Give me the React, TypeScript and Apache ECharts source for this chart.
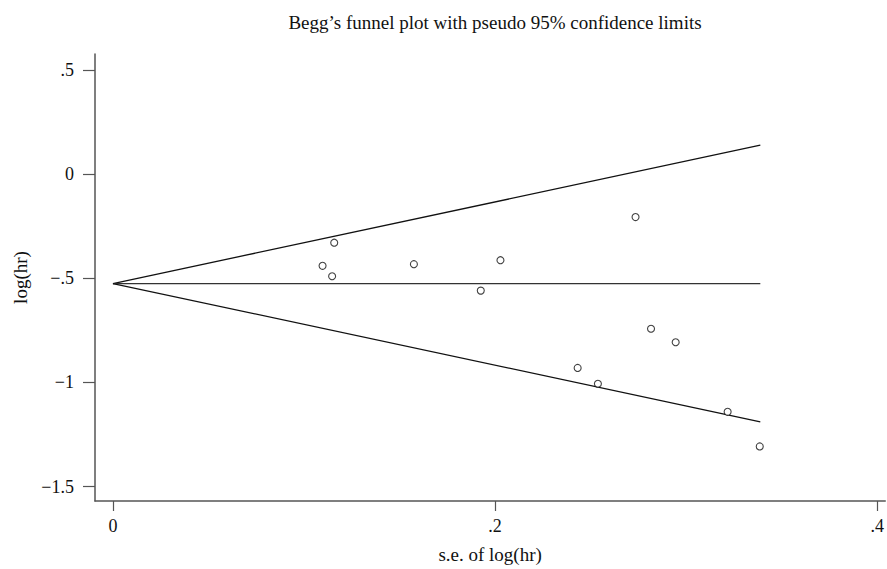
import React, { useEffect, useRef } from "react";
import * as echarts from "echarts";

const studySE = [0.1097, 0.1158, 0.1147, 0.1575, 0.1925, 0.2028, 0.2735, 0.2432, 0.2538, 0.2816, 0.2945, 0.3217, 0.3385];
const studyLogHR = [-0.44, -0.329, -0.49, -0.432, -0.559, -0.413, -0.206, -0.93, -1.006, -0.742, -0.807, -1.141, -1.307];

const funnelSE = [0, 0.3388];
const centreLine = [-0.525, -0.525];
const upperLimit = [-0.525, 0.139];
const lowerLimit = [-0.525, -1.189];

const xTicks = [0, 0.2, 0.4];
const yTicks = [-1.5, -1, -0.5, 0, 0.5];

const FONT = "'Liberation Serif', 'DejaVu Serif', serif";

function fmt(v: number): string {
  if (v === 0) return "0";
  const neg = v < 0;
  let s = String(Math.abs(v));
  if (s.startsWith("0.")) s = s.slice(1);
  return (neg ? "\u2212" : "") + s;
}

export default function App() {
  const ref = useRef<HTMLDivElement>(null);
  useEffect(() => {
    if (!ref.current) return;
    const chart = echarts.init(ref.current, null, { renderer: "svg" });
    const pairs = (xs: number[], ys: number[]) => xs.map((x, i) => [x, ys[i]]);
    chart.setOption({
      animation: false,
      backgroundColor: "#ffffff",
      title: {
        text: "Begg\u2019s funnel plot with pseudo 95% confidence limits",
        left: 490,
        top: 8,
        textAlign: "center",
        textStyle: { fontFamily: FONT, fontSize: 19, fontWeight: "normal", color: "#111" },
      },
      grid: { left: 95, top: 54, width: 792, height: 450, containLabel: false },
      xAxis: {
        type: "value",
        min: -0.0094,
        max: 0.4042,
        name: "s.e. of log(hr)",
        nameLocation: "middle",
        nameGap: 44,
        nameTextStyle: { fontFamily: FONT, fontSize: 19, color: "#111" },
        axisLine: { show: true, onZero: false, lineStyle: { color: "#555", width: 1.5 } },
        axisTick: { show: true, inside: false, length: 10, customValues: xTicks, lineStyle: { color: "#555", width: 1.2 } },
        axisLabel: {
          customValues: xTicks,
          formatter: (v: number) => fmt(v),
          fontFamily: FONT,
          fontSize: 18,
          color: "#111",
          margin: 16,
        },
        splitLine: { show: false },
      },
      yAxis: {
        type: "value",
        min: -1.569,
        max: 0.577,
        name: "log(hr)",
        nameLocation: "middle",
        nameGap: 63,
        nameRotate: 90,
        nameTextStyle: { fontFamily: FONT, fontSize: 19, color: "#111" },
        axisLine: { show: true, onZero: false, lineStyle: { color: "#555", width: 1.5 } },
        axisTick: { show: true, inside: false, length: 12, customValues: yTicks, lineStyle: { color: "#555", width: 1.2 } },
        axisLabel: {
          customValues: yTicks,
          formatter: (v: number) => fmt(v),
          fontFamily: FONT,
          fontSize: 18,
          color: "#111",
          margin: 21,
        },
        splitLine: { show: false },
      },
      series: [
        {
          type: "line",
          data: pairs(funnelSE, upperLimit),
          symbol: "none",
          lineStyle: { color: "#111", width: 1.3 },
          silent: true,
        },
        {
          type: "line",
          data: pairs(funnelSE, centreLine),
          symbol: "none",
          lineStyle: { color: "#333", width: 1.3 },
          silent: true,
        },
        {
          type: "line",
          data: pairs(funnelSE, lowerLimit),
          symbol: "none",
          lineStyle: { color: "#111", width: 1.3 },
          silent: true,
        },
        {
          type: "scatter",
          data: pairs(studySE, studyLogHR),
          symbol: "circle",
          symbolSize: 7,
          itemStyle: { color: "#ffffff", borderColor: "#111", borderWidth: 1.1 },
          z: 5,
        },
      ],
    });
    return () => chart.dispose();
  }, []);
  return <div ref={ref} style={{ width: 887, height: 569, position: "absolute", left: 0, top: 0 }} />;
}
